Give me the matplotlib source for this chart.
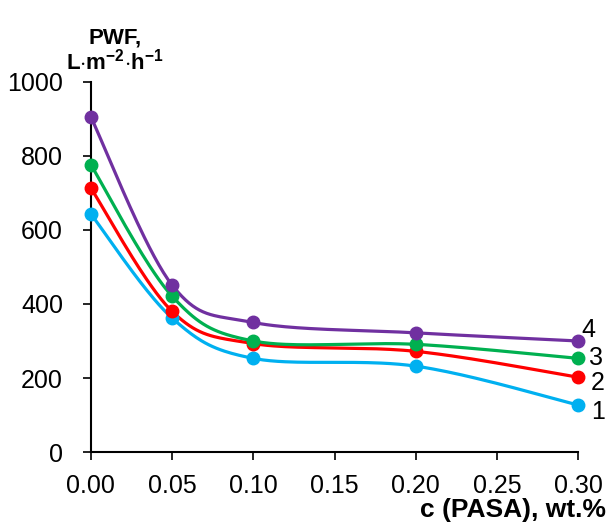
import numpy as np
import matplotlib
matplotlib.use("Agg")
import matplotlib.pyplot as plt

plt.rcParams['font.family'] = ['Liberation Sans', 'DejaVu Sans']
plt.rcParams['mathtext.fontset'] = 'custom'
plt.rcParams['mathtext.rm'] = 'Liberation Sans'
plt.rcParams['mathtext.bf'] = 'Liberation Sans:bold'

# PASA concentration, wt.%
conc = [0.00, 0.05, 0.10, 0.20, 0.30]
# pure water flux, L m-2 h-1
pwf_1 = [643, 362, 253, 232, 127]
pwf_2 = [713, 380, 293, 272, 202]
pwf_3 = [776, 421, 300, 291, 253]
pwf_4 = [905, 451, 350, 322, 300]
series = [pwf_1, pwf_2, pwf_3, pwf_4]
labels = ['1', '2', '3', '4']
colors = ['#00b0f0', '#ff0000', '#00b050', '#7030a0']
label_offsets = [(14, -5), (14, -4), (13, 0), (7, 8)]

xticks = [0.00, 0.05, 0.10, 0.15, 0.20, 0.25, 0.30]
yticks = [0, 200, 400, 600, 800, 1000]

fig = plt.figure(figsize=(6.1, 5.25), dpi=100)
ax = fig.add_axes([0.149, 0.139, 0.799, 0.705])
ax.set_xlim(0, 0.30)
ax.set_ylim(0, 1000)


def smooth(x, y, n=40):
    # Bezier smoothing (Catmull-Rom style) done in screen space
    pts = ax.transData.transform(np.column_stack([x, y]))
    p = np.vstack([pts[0], pts, pts[-1]])
    out = []
    for i in range(1, len(p) - 2):
        p0, p1 = p[i], p[i + 1]
        c1 = p0 + (p[i + 1] - p[i - 1]) / 6
        c2 = p1 - (p[i + 2] - p[i]) / 6
        t = np.linspace(0, 1, n)[:, None]
        seg = ((1 - t) ** 3) * p0 + 3 * ((1 - t) ** 2) * t * c1 \
            + 3 * (1 - t) * t ** 2 * c2 + t ** 3 * p1
        out.append(seg)
    curve = ax.transData.inverted().transform(np.vstack(out))
    return curve[:, 0], curve[:, 1]


for vals, lab, col, off in zip(series, labels, colors, label_offsets):
    sx, sy = smooth(conc, vals)
    ax.plot(sx, sy, color=col, lw=2.3, clip_on=False, zorder=3)
    ax.plot(conc, vals, 'o', color=col, ms=9, clip_on=False, zorder=4)
    ax.annotate(lab, (conc[-1], vals[-1]), xytext=off, textcoords='offset points',
                ha='center', va='center', fontsize=18, annotation_clip=False)

ax.set_xticks(xticks)
ax.set_xticklabels([f'{v:.2f}' for v in xticks])
ax.set_yticks(yticks)
ax.tick_params(axis='both', labelsize=18, direction='out', length=6, width=1.2,
               color='black')
ax.tick_params(axis='x', pad=10)
ax.tick_params(axis='y', pad=14)
for s in ['top', 'right']:
    ax.spines[s].set_visible(False)
for s in ['left', 'bottom']:
    ax.spines[s].set_linewidth(1.5)

fig.text(0.188, 0.928, 'PWF,', fontsize=16, fontweight='bold', ha='center', va='center')
fig.text(0.188, 0.882, r'$\mathbf{L{\cdot}m^{-2}{\cdot}h^{-1}}$', fontsize=16,
         ha='center', va='center')
fig.text(0.993, 0.028, 'c (PASA), wt.%', fontsize=19, fontweight='bold',
         ha='right', va='center')

fig.savefig('out.png', dpi=100)
